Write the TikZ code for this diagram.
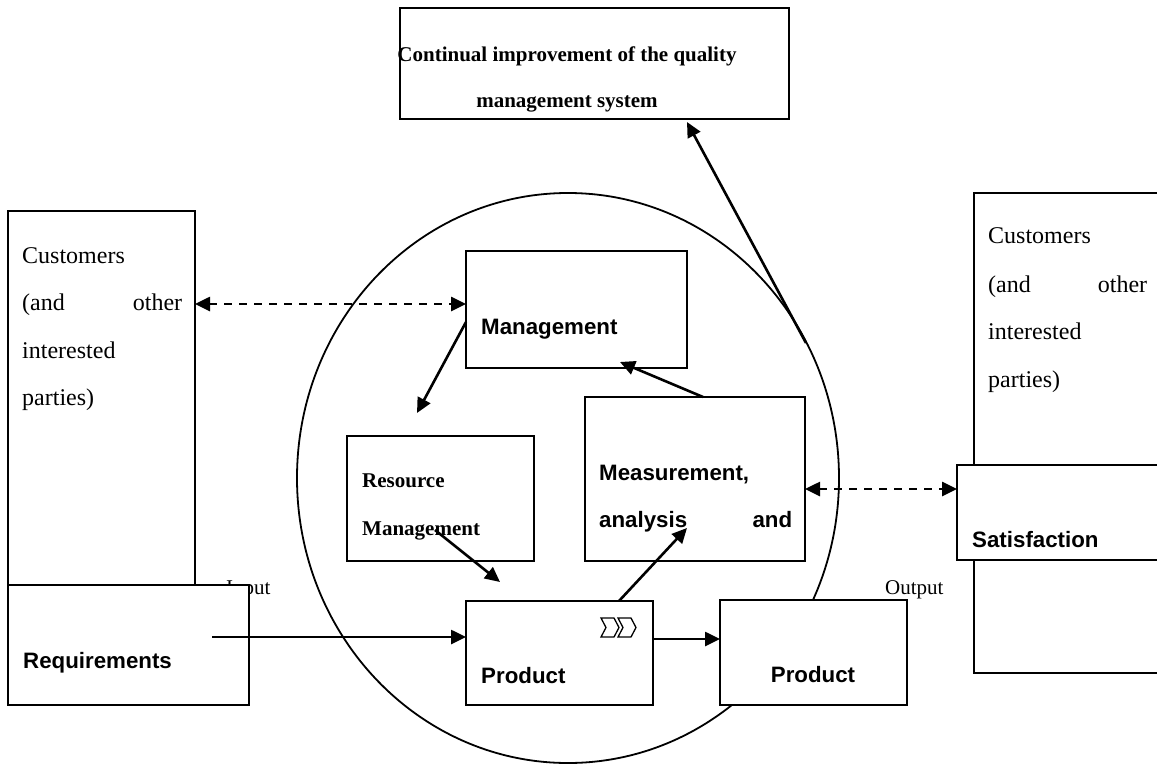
\documentclass[tikz,border=0pt]{standalone}
\usepackage{fontspec}
\setmainfont{Liberation Serif}
\newfontfamily\arialf{Liberation Sans}
\usetikzlibrary{arrows.meta,calc}
\tikzset{
  box/.style={draw, line width=2pt, fill=white, inner sep=0pt, outer sep=0pt, anchor=north west},
  conn/.style={line width=2.6pt, -{Triangle[length=15pt,width=14pt]}},
  dconn/.style={line width=2.6pt, dash pattern=on 8pt off 7pt, {Triangle[length=15pt,width=14pt]}-{Triangle[length=15pt,width=14pt]}},
  serifbf/.style={font=\fontsize{21}{25}\selectfont\bfseries, inner sep=0pt},
  seriflg/.style={font=\fontsize{24}{28}\selectfont, inner sep=0pt, anchor=base west},
  serifsm/.style={font=\fontsize{21}{25}\selectfont, inner sep=0pt, anchor=base west},
  sansbf/.style={font=\arialf\fontsize{22.3}{26}\selectfont\bfseries, inner sep=0pt, anchor=base west},
}
\begin{document}
\begin{tikzpicture}[x=1pt,y=-1pt]
\useasboundingbox (0,0) rectangle (1157,766);
\clip (0,0) rectangle (1157,766);
\fill[white] (0,0) rectangle (1157,766);

% big ellipse
\draw[line width=1.8pt] (568,478) ellipse [x radius=271pt, y radius=285pt];
\coordinate (rim) at (806,343);

% top box
\node[box, minimum width=389pt, minimum height=111pt] (impr) at (400,8) {};
\node[serifbf, anchor=base] (impr1) at (567,61) {Continual improvement of the quality};
\node[serifbf, anchor=base] (impr2) at (567,107) {management system};

% left customers
\node[box, minimum width=187pt, minimum height=450pt] (custL) at (8,211) {};
\node[seriflg] (cl1) at (22,263) {Customers};
\node[seriflg, text width=160pt, align=left] (cl2) at (22,310) {(and\hfill other};
\node[seriflg] (cl3) at (22,358) {interested};
\node[seriflg] (cl4) at (22,405) {parties)};

% input label (partly hidden)
\node[serifsm] (inlbl) at (226,594) {Input};

% requirements
\node[box, minimum width=241pt, minimum height=120pt] (req) at (8,585) {};
\node[sansbf] (reqt) at (23,668) {Requirements};

% management
\node[box, minimum width=221pt, minimum height=117pt] (mgmt) at (466,251) {};
\node[sansbf] (mgmtt) at (481,334) {Management};

% resource management
\node[box, minimum width=187pt, minimum height=125pt] (res) at (347,436) {};
\node[serifbf, anchor=base west] (rest1) at (362,487) {Resource};
\node[serifbf, anchor=base west] (rest2) at (362,535) {Management};

% measurement
\node[box, minimum width=220pt, minimum height=164pt] (meas) at (585,397) {};
\node[sansbf] (meast1) at (599,480) {Measurement,};
\node[sansbf, text width=193pt, align=left] (meast2) at (599,527) {analysis\hfill and};

% product realization
\node[box, minimum width=187pt, minimum height=104pt] (proc) at (466,601) {};
\node[sansbf] (proct) at (481,683) {Product};
\draw[line width=1.3pt, line join=miter] (601,618) -- (614,618) -- (619,627.5) -- (614,637) -- (601,637) -- (606,627.5) -- cycle;
\draw[line width=1.3pt, line join=miter] (618,618) -- (631,618) -- (636,627.5) -- (631,637) -- (618,637) -- (623,627.5) -- cycle;

% output product
\node[box, minimum width=187pt, minimum height=105pt] (prod) at (720,600) {};
\node[sansbf, anchor=base] (prodt) at (813,682) {Product};
\node[serifsm] (outlbl) at (885,594) {Output};

% right customers
\node[box, minimum width=220pt, minimum height=480pt] (custR) at (974,193) {};
\node[seriflg] (cr1) at (988,243) {Customers};
\node[seriflg, text width=159pt, align=left] (cr2) at (988,292) {(and\hfill other};
\node[seriflg] (cr3) at (988,339) {interested};
\node[seriflg] (cr4) at (988,387) {parties)};

% satisfaction
\node[box, minimum width=220pt, minimum height=95pt] (sat) at (957,465) {};
\node[sansbf] (satt) at (972,547) {Satisfaction};

% connectors
\coordinate (mrTip) at (417,413);
\coordinate (rpTip) at (500,582);
\draw[conn] ($(mgmt.north west)+(0,71)$) -- (mrTip);
\draw[conn] ($(res.north west)+(88,94)$) -- (rpTip);
\draw[conn] ($(proc.north west)+(153,0)$) -- ($(meas.north west)+(102,131)$);
\draw[conn] ($(meas.north west)+(118,0)$) -- ($(mgmt.south west)+(154,-6)$);
\draw[conn] (rim) -- ($(impr.south west)+(287,3)$);
\draw[conn] ($(req.north west)+(204,52)$) -- ($(proc.north west)+(0,36)$);
\draw[conn] ($(proc.north east)+(0,38)$) -- ($(prod.north west)+(0,39)$);
\draw[dconn] ($(custL.north east)+(0,93)$) -- ($(mgmt.north west)+(0,53)$);
\draw[dconn] ($(meas.north east)+(0,92)$) -- ($(sat.north west)+(0,24)$);
\end{tikzpicture}
\end{document}
